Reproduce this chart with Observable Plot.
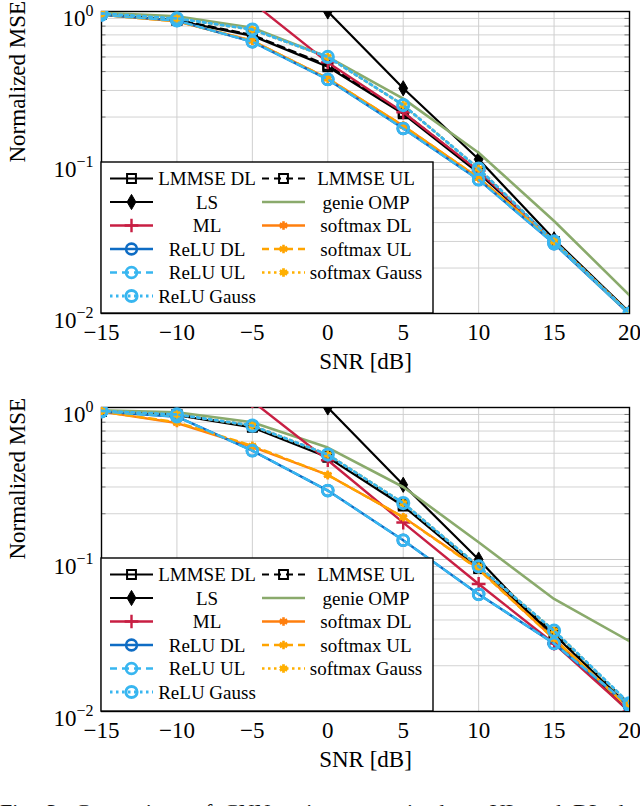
<!DOCTYPE html>
<html>
<head>
<meta charset="utf-8">
<script src="https://cdn.jsdelivr.net/npm/d3@7"></script>
<script src="https://cdn.jsdelivr.net/npm/@observablehq/plot@0.6"></script>
<style>
  body { margin: 0; background: #fff; overflow: hidden; font-family: "Liberation Serif", serif; }
  #caption { position: absolute; left: 0; top: 801px; width: 640px; font-size: 22px; line-height: 22px;
             white-space: nowrap; overflow: hidden; color: #111; word-spacing: 6px; }
</style>
</head>
<body>
<div id="top"></div>
<div id="bottom"></div>
<div id="caption">Fig. 3: Comparison of CNN estimators trained on UL and DL data.</div>
<script>
// SNR grid
const snr = [-15, -10, -5, 0, 5, 10, 15, 20];

// upper panel
const upLmmseDL      = [0.96, 0.87, 0.69, 0.43, 0.21, 0.085, 0.030, 0.0101];
const upLmmseUL      = [0.96, 0.88, 0.70, 0.44, 0.215, 0.087, 0.030, 0.0101];
const upLS           = [30, 9.5, 3.1, 1.0, 0.31, 0.105, 0.031, 0.0102];
const upGenie        = [0.98, 0.93, 0.78, 0.50, 0.265, 0.116, 0.041, 0.0132];
const upML           = [5.0, 2.4, 1.15, 0.46, 0.215, 0.088, 0.030, 0.0099];
const upSoftmaxDL    = [0.95, 0.86, 0.64, 0.36, 0.175, 0.079, 0.030, 0.0100];
const upReluDL       = [0.95, 0.87, 0.63, 0.355, 0.168, 0.077, 0.029, 0.0099];
const upSoftmaxUL    = [0.95, 0.86, 0.64, 0.36, 0.175, 0.079, 0.030, 0.0100];
const upReluUL       = [0.95, 0.87, 0.63, 0.355, 0.168, 0.077, 0.029, 0.0099];
const upSoftmaxGauss = [0.97, 0.90, 0.76, 0.50, 0.24, 0.091, 0.030, 0.0100];
const upReluGauss    = [0.97, 0.90, 0.76, 0.50, 0.24, 0.091, 0.030, 0.0100];

// lower panel
const loLmmseDL      = [0.94, 0.89, 0.74, 0.47, 0.225, 0.087, 0.032, 0.0108];
const loLmmseUL      = [0.95, 0.90, 0.75, 0.48, 0.23, 0.089, 0.033, 0.0111];
const loLS           = [30, 9.5, 3.1, 1.0, 0.31, 0.10, 0.030, 0.0099];
const loGenie        = [0.96, 0.93, 0.80, 0.545, 0.30, 0.13, 0.055, 0.029];
const loML           = [5.0, 2.4, 1.1, 0.45, 0.175, 0.069, 0.028, 0.0100];
const loSoftmaxDL    = [0.94, 0.79, 0.55, 0.36, 0.19, 0.087, 0.030, 0.0105];
const loReluDL       = [0.94, 0.87, 0.52, 0.284, 0.134, 0.059, 0.028, 0.0108];
const loSoftmaxUL    = [0.94, 0.80, 0.56, 0.36, 0.19, 0.086, 0.030, 0.0105];
const loReluUL       = [0.94, 0.87, 0.52, 0.284, 0.134, 0.059, 0.028, 0.0110];
const loSoftmaxGauss = [0.95, 0.90, 0.76, 0.49, 0.235, 0.090, 0.034, 0.0112];
const loReluGauss    = [0.95, 0.90, 0.76, 0.49, 0.235, 0.090, 0.034, 0.0113];

// draw order (as in the source figure)
const names = ["LMMSE DL", "LMMSE UL", "LS", "genie OMP", "ML", "softmax DL", "ReLU DL",
               "softmax UL", "ReLU UL", "softmax Gauss", "ReLU Gauss"];
const upper = [upLmmseDL, upLmmseUL, upLS, upGenie, upML, upSoftmaxDL, upReluDL,
               upSoftmaxUL, upReluUL, upSoftmaxGauss, upReluGauss];
const lower = [loLmmseDL, loLmmseUL, loLS, loGenie, loML, loSoftmaxDL, loReluDL,
               loSoftmaxUL, loReluUL, loSoftmaxGauss, loReluGauss];

// legend columns
const legendCol1 = ["LMMSE DL", "LS", "ML", "ReLU DL", "ReLU UL", "ReLU Gauss"];
const legendCol2 = ["LMMSE UL", "genie OMP", "softmax DL", "softmax UL", "softmax Gauss"];

const yTicks = [1, 0.1, 0.01];
const yMinor = [0.02, 0.03, 0.04, 0.05, 0.06, 0.07, 0.08, 0.09, 0.2, 0.3, 0.4, 0.5, 0.6, 0.7, 0.8, 0.9];

const sty = {
  "LMMSE DL":      {c: "#000000", w: 2.2, dash: null,    sym: "square",   r: 5,   fill: "none", sw: 2},
  "LMMSE UL":      {c: "#000000", w: 2.2, dash: "7,5",   sym: "square",   r: 5,   fill: "none", sw: 2},
  "LS":            {c: "#000000", w: 2.2, dash: null,    sym: "diamond",  r: 4.6, fill: "#000000", sw: 1},
  "genie OMP":     {c: "#8aaa6c", w: 2.6, dash: null,    sym: null},
  "ML":            {c: "#c81f43", w: 2.4, dash: null,    sym: "plus",     r: 4.5, fill: "none", sw: 2.4},
  "softmax DL":    {c: "#ff7f0e", w: 2.4, dash: null,    sym: "asterisk", r: 4,   fill: "none", sw: 2.6},
  "ReLU DL":       {c: "#0e6cc4", w: 2.4, dash: null,    sym: "circle",   r: 5.4, fill: "none", sw: 2.6},
  "softmax UL":    {c: "#ffa400", w: 2.4, dash: "7,5",   sym: "asterisk", r: 4,   fill: "none", sw: 2.6},
  "ReLU UL":       {c: "#38b6f0", w: 2.4, dash: "7,5",   sym: "circle",   r: 5.4, fill: "none", sw: 2.8},
  "softmax Gauss": {c: "#ffb000", w: 2.6, dash: "2.5,3.5", sym: "asterisk", r: 4, fill: "none", sw: 2.8},
  "ReLU Gauss":    {c: "#38b6f0", w: 2.8, dash: "2.5,3.5", sym: "circle", r: 5.6, fill: "none", sw: 3}
};

const symbolMap = {square: d3.symbolSquare, diamond: d3.symbolDiamond, plus: d3.symbolPlus,
                   asterisk: d3.symbolAsterisk, circle: d3.symbolCircle};

function makeChart(values, height, marginTop, marginBottom) {
  const rows = [];
  names.forEach((name, k) => values[k].forEach((v, i) => rows.push({name, snr: snr[i], mse: v})));

  const marks = [
    Plot.ruleY(yMinor, {stroke: "#d3d3d3", strokeWidth: 1}),
    Plot.ruleY([0.1], {stroke: "#c8c8c8", strokeWidth: 1}),
    Plot.ruleX(snr, {stroke: "#cfcfcf", strokeWidth: 1}),
    Plot.ruleY(yMinor, {x1: -15, x2: -14.7, stroke: "#777", strokeWidth: 1}),
    Plot.ruleY(yMinor, {x1: 19.7, x2: 20, stroke: "#777", strokeWidth: 1}),
    Plot.frame({stroke: "#000", strokeWidth: 1.4}),
    Plot.axisX({ticks: snr, tickSize: 0, tickPadding: 10, fontSize: 23, label: null}),
    Plot.axisY({ticks: yTicks, tickSize: 0, tickPadding: 8, fontSize: 23, label: null,
                tickFormat: d => d === 1 ? "10^0" : d === 0.1 ? "10^\u22121" : "10^\u22122"}),
    Plot.text(["SNR [dB]"], {text: d => d, frameAnchor: "bottom", dy: 55, fontSize: 23}),
    Plot.text(["Normalized MSE"], {text: d => d, frameAnchor: "left", dx: -84, rotate: -90, fontSize: 23})
  ];

  for (const name of names) {
    const s = sty[name];
    const d = rows.filter(r => r.name === name);
    marks.push(Plot.line(d, {x: "snr", y: "mse", stroke: s.c, strokeWidth: s.w,
                             strokeDasharray: s.dash, clip: true}));
    if (s.sym) {
      marks.push(Plot.dot(d, {x: "snr", y: "mse", symbol: s.sym, r: s.r, stroke: s.c,
                              fill: s.fill, strokeWidth: s.sw, clip: true}));
    }
  }

  return Plot.plot({
    width: 640,
    height: height,
    marginLeft: 101,
    marginRight: 11,
    marginTop: marginTop,
    marginBottom: marginBottom,
    x: {domain: [-15, 20]},
    y: {type: "log", domain: [0.01, 1]},
    style: {fontFamily: "'Liberation Serif', serif", background: "white", color: "#000", overflow: "visible"},
    marks
  });
}

function fixTicks(svg) {
  d3.select(svg).selectAll('g[aria-label="y-axis tick label"] text').each(function () {
    const t = d3.select(this);
    const [b, e] = t.text().split("^");
    t.text(b).attr("dy", "0.3em");
    t.append("tspan").attr("dy", "-0.62em").attr("font-size", "16px").text(e);
  });
}

function addLegend(svg, boxTop, boxBottom) {
  const g = d3.select(svg).append("g");
  g.append("rect").attr("x", 101).attr("y", boxTop).attr("width", 332).attr("height", boxBottom - boxTop)
    .attr("fill", "white").attr("stroke", "black").attr("stroke-width", 1.4);
  [legendCol1, legendCol2].forEach((col, ci) => col.forEach((name, ri) => {
    const s = sty[name];
    const y = boxTop + 16.5 + ri * 23.5;
    const x0 = ci ? 262 : 110, x1 = ci ? 305 : 153, tx = ci ? 366 : 207;
    g.append("line").attr("x1", x0).attr("x2", x1).attr("y1", y).attr("y2", y)
      .attr("stroke", s.c).attr("stroke-width", s.w).attr("stroke-dasharray", s.dash);
    if (s.sym) {
      g.append("path").attr("d", d3.symbol(symbolMap[s.sym], Math.PI * s.r * s.r)())
        .attr("transform", `translate(${(x0 + x1) / 2},${y})`)
        .attr("fill", s.fill).attr("stroke", s.c).attr("stroke-width", s.sw);
    }
    g.append("text").attr("x", tx).attr("y", y).attr("dy", "0.35em").attr("text-anchor", "middle")
      .attr("font-size", 19).attr("fill", "#000").text(name);
  }));
}

const c1 = makeChart(upper, 395, 11, 82);
fixTicks(c1);
addLegend(c1, 162, 313);
d3.select("#top").append(() => c1);

const c2 = makeChart(lower, 400, 12, 84);
fixTicks(c2);
addLegend(c2, 163, 316);
d3.select("#bottom").append(() => c2);
</script>
</body>
</html>
